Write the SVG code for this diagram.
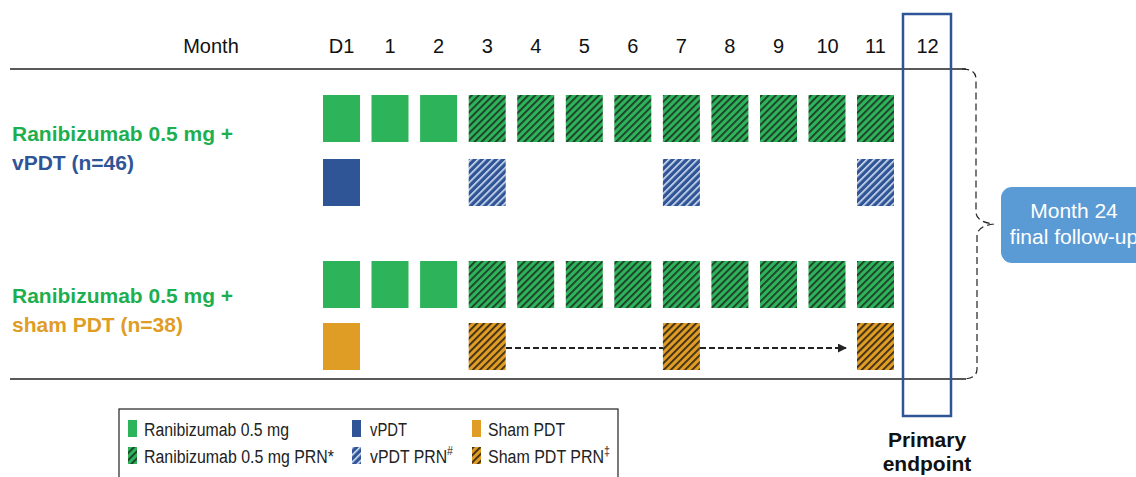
<svg xmlns="http://www.w3.org/2000/svg" width="1136" height="477" viewBox="0 0 1136 477">
<style>
text{font-family:"Liberation Sans",Arial,sans-serif;}
.hdr{font-size:20px;fill:#111;text-anchor:middle;}
.lab{font-size:21px;font-weight:bold;}
.leg{font-size:18px;fill:#222;}
.g{fill:#2DB35A;}
.b{fill:#2F5597;}
.o{fill:#E09D25;}
.gh{fill:url(#hg);}
.bh{fill:url(#hb);}
.oh{fill:url(#ho);}
</style>
<defs>
<pattern id="hg" patternUnits="userSpaceOnUse" width="5" height="5" patternTransform="rotate(45)">
<rect width="5" height="5" fill="#2DB35A"/><rect width="1.8" height="5" fill="#1F3A26"/></pattern>
<pattern id="hb" patternUnits="userSpaceOnUse" width="5" height="5" patternTransform="rotate(45)">
<rect width="5" height="5" fill="#2F5597"/><rect width="1.6" height="5" fill="#D6E0F2"/></pattern>
<pattern id="ho" patternUnits="userSpaceOnUse" width="5" height="5" patternTransform="rotate(45)">
<rect width="5" height="5" fill="#E09D25"/><rect width="1.8" height="5" fill="#3A2A12"/></pattern>
<marker id="arr" viewBox="0 0 10 10" refX="9" refY="5" markerWidth="4.5" markerHeight="4.5" orient="auto" markerUnits="strokeWidth">
<path d="M0,0 L10,5 L0,10 z" fill="#222"/></marker>
</defs>

<g id="header">
<text class="hdr" x="211" y="53">Month</text>
<text class="hdr" x="341.5" y="53">D1</text>
<text class="hdr" x="390" y="53">1</text>
<text class="hdr" x="438.6" y="53">2</text>
<text class="hdr" x="487.2" y="53">3</text>
<text class="hdr" x="535.7" y="53">4</text>
<text class="hdr" x="584.3" y="53">5</text>
<text class="hdr" x="632.8" y="53">6</text>
<text class="hdr" x="681.4" y="53">7</text>
<text class="hdr" x="729.9" y="53">8</text>
<text class="hdr" x="778.5" y="53">9</text>
<text class="hdr" x="827.5" y="53">10</text>
<text class="hdr" x="875.5" y="53">11</text>
<text class="hdr" x="927.5" y="53">12</text>
</g>

<g id="frame-lines" stroke="#222" stroke-width="1.3">
<line x1="10" y1="69" x2="966" y2="69"/>
<line x1="10" y1="379" x2="966" y2="379"/>
</g>

<g id="group1-label">
<text class="lab" x="12" y="141" fill="#1DAF4F">Ranibizumab 0.5 mg +</text>
<text class="lab" x="12" y="170" fill="#2F5597">vPDT (n=46)</text>
</g>
<g id="group2-label">
<text class="lab" x="12" y="303" fill="#1DAF4F">Ranibizumab 0.5 mg +</text>
<text class="lab" x="12" y="332" fill="#E09D25">sham PDT (n=38)</text>
</g>

<g id="group1-ranibizumab">
<rect class="g" x="323" y="95" width="37" height="47"/>
<rect class="g" x="371.5" y="95" width="37" height="47"/>
<rect class="g" x="420.1" y="95" width="37" height="47"/>
<rect class="gh" x="468.7" y="95" width="37" height="47"/>
<rect class="gh" x="517.2" y="95" width="37" height="47"/>
<rect class="gh" x="565.8" y="95" width="37" height="47"/>
<rect class="gh" x="614.3" y="95" width="37" height="47"/>
<rect class="gh" x="662.9" y="95" width="37" height="47"/>
<rect class="gh" x="711.4" y="95" width="37" height="47"/>
<rect class="gh" x="760" y="95" width="37" height="47"/>
<rect class="gh" x="808.5" y="95" width="37" height="47"/>
<rect class="gh" x="857" y="95" width="37" height="47"/>
</g>
<g id="group1-vpdt">
<rect class="b" x="323" y="159" width="37" height="47"/>
<rect class="bh" x="468.7" y="159" width="37" height="47"/>
<rect class="bh" x="662.9" y="159" width="37" height="47"/>
<rect class="bh" x="857" y="159" width="37" height="47"/>
</g>

<g id="group2-ranibizumab">
<rect class="g" x="323" y="261" width="37" height="47"/>
<rect class="g" x="371.5" y="261" width="37" height="47"/>
<rect class="g" x="420.1" y="261" width="37" height="47"/>
<rect class="gh" x="468.7" y="261" width="37" height="47"/>
<rect class="gh" x="517.2" y="261" width="37" height="47"/>
<rect class="gh" x="565.8" y="261" width="37" height="47"/>
<rect class="gh" x="614.3" y="261" width="37" height="47"/>
<rect class="gh" x="662.9" y="261" width="37" height="47"/>
<rect class="gh" x="711.4" y="261" width="37" height="47"/>
<rect class="gh" x="760" y="261" width="37" height="47"/>
<rect class="gh" x="808.5" y="261" width="37" height="47"/>
<rect class="gh" x="857" y="261" width="37" height="47"/>
</g>
<g id="group2-sham">
<rect class="o" x="323" y="323" width="37" height="47"/>
<rect class="oh" x="468.7" y="323" width="37" height="47"/>
<rect class="oh" x="662.9" y="323" width="37" height="47"/>
<rect class="oh" x="857" y="323" width="37" height="47"/>
</g>

<g id="connectors" fill="none" stroke="#222" stroke-width="2" stroke-dasharray="6,3">
<line x1="506" y1="348" x2="663" y2="348"/>
<line x1="700" y1="348" x2="846" y2="348" marker-end="url(#arr)"/>
</g>

<g id="primary-endpoint">
<rect x="903" y="14" width="48" height="402" fill="none" stroke="#2F5597" stroke-width="2.5"/>
<text x="927" y="447" font-size="21" font-weight="bold" text-anchor="middle" fill="#111">Primary</text>
<text x="927" y="471" font-size="21" font-weight="bold" text-anchor="middle" fill="#111">endpoint</text>
</g>

<g id="brace">
<path d="M962,69 Q976,69 976,79 L976,212 Q976,222 994,224 Q977,226 977,236 L977,369 Q977,379 962,379" fill="none" stroke="#222" stroke-width="1.2" stroke-dasharray="7,4"/>
</g>

<g id="month24">
<rect x="1001" y="187" width="150" height="76" rx="11" fill="#5B9BD5"/>
<text x="1074" y="218" font-size="21" fill="#fff" text-anchor="middle">Month 24</text>
<text x="1074" y="244" font-size="21" fill="#fff" text-anchor="middle">final follow-up</text>
</g>

<g id="legend">
<rect x="119" y="409" width="499" height="80" fill="#fff" stroke="#222" stroke-width="1.2"/>
<rect class="g" x="128" y="420" width="9" height="17"/>
<text class="leg" x="144" y="436" textLength="145" lengthAdjust="spacingAndGlyphs">Ranibizumab 0.5 mg</text>
<rect class="gh" x="128" y="447" width="9" height="17"/>
<text class="leg" x="144" y="463" textLength="190" lengthAdjust="spacingAndGlyphs">Ranibizumab 0.5 mg PRN*</text>
<rect class="b" x="352" y="420" width="9" height="17"/>
<text class="leg" x="370" y="436" textLength="37" lengthAdjust="spacingAndGlyphs">vPDT</text>
<rect class="bh" x="352" y="447" width="9" height="17"/>
<text class="leg" x="370" y="463" textLength="83" lengthAdjust="spacingAndGlyphs">vPDT PRN<tspan font-size="12" dy="-8">#</tspan></text>
<rect class="o" x="472" y="420" width="9" height="17"/>
<text class="leg" x="488" y="436" textLength="77" lengthAdjust="spacingAndGlyphs">Sham PDT</text>
<rect class="oh" x="472" y="447" width="9" height="17"/>
<text class="leg" x="488" y="463" textLength="122" lengthAdjust="spacingAndGlyphs">Sham PDT PRN<tspan font-size="12" dy="-8">‡</tspan></text>
</g>
</svg>
